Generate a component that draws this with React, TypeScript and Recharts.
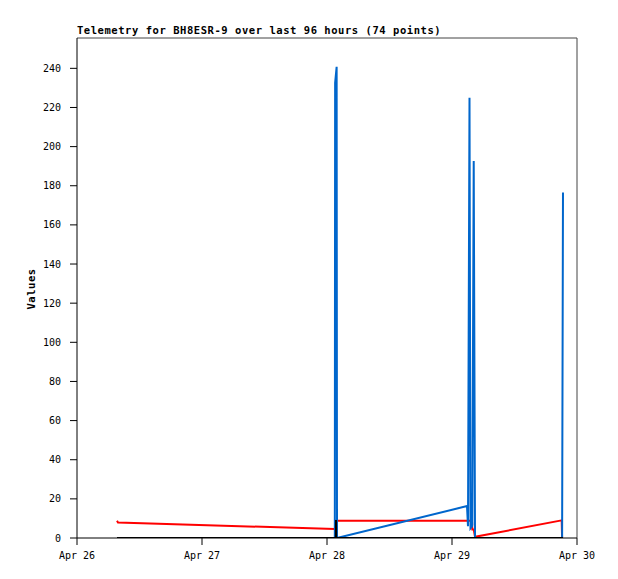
import React from 'react';
import { LineChart, Line, XAxis, YAxis, ReferenceLine } from 'recharts';

// hours since Apr 26 00:00
const hours = [7.68, 7.87, 49.5, 49.56, 49.7, 49.73, 49.76, 49.85, 49.92, 74.88, 75.07, 75.36, 75.55, 75.84, 75.9, 76.17, 76.42, 93.06, 93.14, 93.31];
const redValues = [8.8, 7.9, 4.6, 4.6, 4.6, 8.85, 8.85, 8.85, 8.85, 8.85, 8.85, 8.85, 8.85, 8.85, 4.4, 4.4, 0.6, 9.0, 0, 0];
const blueValues = [0, 0, 0, 232.6, null, null, null, 240.8, 0, 16.3, 6, 225, 5, 6, 7, 192.6, 0, 0, 0, 176.5];
const blackValues = [0, 0, 0, 0, 0, 9.2, 0, 0, 0, 0, 0, 0, 0, 0, 0, 0, 0, 0, 0, 0];

const xTicks = [0, 24, 48, 72, 96];
const xTickLabels = ['Apr 26', 'Apr 27', 'Apr 28', 'Apr 29', 'Apr 30'];
const yTicks = [0, 20, 40, 60, 80, 100, 120, 140, 160, 180, 200, 220, 240];
const yMax = 255.5;

const data = hours.map((t, i) => ({
  t,
  red: redValues[i],
  blue: blueValues[i],
  black: blackValues[i],
}));

const tickStyle = { fontFamily: 'DejaVu Sans Mono', fontSize: 10, fill: '#000' };
const boldText = { fontFamily: 'DejaVu Sans Mono', fontWeight: 'bold' as const, fontSize: 10.5, letterSpacing: 0.55, fill: '#000' };

export default function App() {
  return (
    <div style={{ position: 'absolute', left: 0, top: 0, width: 618, height: 579, background: '#fff' }}>
      <LineChart width={618} height={579} data={data} margin={{ top: 38, right: 41, bottom: 11, left: 17 }}>
        <XAxis
          dataKey="t"
          type="number"
          domain={[0, 96]}
          ticks={xTicks}
          interval={0}
          tickFormatter={(v: number) => xTickLabels[xTicks.indexOf(v)]}
          height={30}
          tickSize={7}
          tickMargin={7}
          tick={tickStyle}
          stroke="#000"
          allowDataOverflow
        />
        <YAxis
          type="number"
          domain={[0, yMax]}
          ticks={yTicks}
          interval={0}
          width={60}
          tickSize={7}
          tickMargin={9}
          tick={tickStyle}
          stroke="#000"
          allowDataOverflow
        />
        <ReferenceLine y={yMax} stroke="#444" />
        <ReferenceLine x={96} stroke="#444" />
        <Line type="linear" dataKey="red" stroke="#ff0000" strokeWidth={2} dot={false} isAnimationActive={false} />
        <Line type="linear" dataKey="blue" stroke="#0066cc" strokeWidth={2} dot={false} connectNulls isAnimationActive={false} />
        <Line type="linear" dataKey="black" stroke="#000000" strokeWidth={2} dot={false} isAnimationActive={false} />
      </LineChart>
      <svg width={618} height={579} style={{ position: 'absolute', left: 0, top: 0, pointerEvents: 'none' }}>
        <text x={77} y={34} style={boldText}>Telemetry for BH8ESR-9 over last 96 hours (74 points)</text>
        <text x={0} y={0} transform="translate(35 289) rotate(-90)" textAnchor="middle" style={boldText}>Values</text>
      </svg>
    </div>
  );
}
